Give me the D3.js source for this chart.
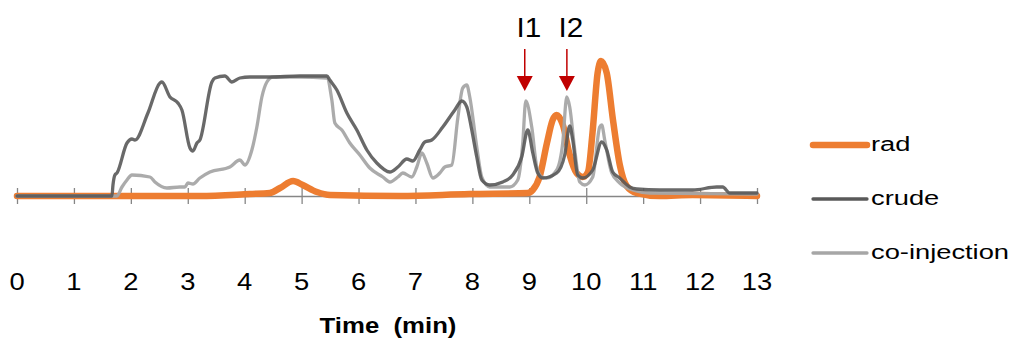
<!DOCTYPE html>
<html>
<head>
<meta charset="utf-8">
<script src="https://cdn.jsdelivr.net/npm/d3@7"></script>
<style>
  html, body { margin: 0; padding: 0; background: #fff; }
  svg { display: block; }
  text { font-family: "Liberation Sans", Arial, sans-serif; fill: #000; }
</style>
</head>
<body>
<svg id="chart" width="1014" height="341"></svg>
<script>
// ---- data (time in min, signal in arbitrary units) ----
const xTicks = [0,1,2,3,4,5,6,7,8,9,10,11,12,13];
const seriesNames = ["rad", "crude", "co-injection"];

const radTime = [0,3.21,4.09,4.44,4.62,4.85,5.02,5.27,5.50,6.73,7.95,8.97,9.06,9.18,9.31,9.41,9.48,9.59,9.71,9.83,9.94,10.03,10.11,10.20,10.26,10.36,10.47,10.59,10.71,10.89,11.29,11.87,13];
const radValue = [0,0,2,3,8,15,11,4,1,0,2,3,6,19,53,76,81,71,41,23,19,24,63,123,135,123,76,31,10,3,0,1,0];

const crudeTime = [0,1.668,1.686,1.72,1.756,1.932,2.019,2.072,2.30,2.511,2.546,2.687,2.827,2.897,3.038,3.09,3.161,3.213,3.424,3.477,3.652,3.775,3.916,4.091,4.443,4.969,5.443,5.495,5.619,5.795,5.97,6.146,6.321,6.55,6.69,6.848,6.953,7.076,7.164,7.287,7.48,7.691,7.814,7.902,7.989,8.077,8.165,8.305,8.534,8.709,8.867,8.973,9.061,9.148,9.236,9.482,9.622,9.71,9.763,9.851,9.939,10.114,10.272,10.36,10.465,10.588,10.764,10.887,11.291,11.87,12.292,12.397,12.52,13];
const crudeValue = [0,0,11,21,23,53,57,56,83,113,114,99,93,86,48,45,53,56,114,118,120,114,118,119,119,120,120,116,106,83,66,46,33,24,29,37,35,46,54,56,69,86,95,89,66,39,16,11,14,21,39,66,43,23,18,23,41,70,56,21,18,26,54,46,24,18,9,7,6,6,9,9,3,3];

const coinjTime = [0,1.756,1.844,1.932,2.019,2.335,2.423,2.634,2.862,2.95,3.003,3.09,3.213,3.389,3.74,3.916,4.004,4.126,4.214,4.302,4.39,4.495,4.969,5.443,5.531,5.584,5.707,5.847,6.023,6.198,6.427,6.55,6.69,6.778,6.936,7.024,7.112,7.199,7.305,7.428,7.515,7.638,7.744,7.831,7.902,7.954,8.077,8.165,8.305,8.657,8.797,8.885,8.938,9.043,9.131,9.219,9.306,9.482,9.587,9.658,9.71,9.798,9.886,9.974,10.114,10.237,10.272,10.325,10.448,10.588,10.817,11.115,13];
const coinjValue = [0,0,9,16,21,19,14,8,9,9,13,12,18,24,29,36,31,46,69,99,114,119,119,118,96,73,66,53,41,28,19,14,19,23,19,29,43,33,18,23,29,31,78,108,111,99,49,19,9,9,16,53,95,69,29,19,18,26,53,99,89,46,14,11,19,69,71,56,23,13,6,3,2];

const peakLabels = ["I1", "I2"];
const peakTimes = [8.92, 9.66];

// ---- layout ----
const svg = d3.select("#chart");
const x = d3.scaleLinear().domain([0, 13]).range([17, 757]);
const y = d3.scaleLinear().domain([0, 140]).range([196, 56]);

// axis
const axisG = svg.append("g").attr("transform", `translate(0,${y(0)})`);
const axis = d3.axisBottom(x).tickValues(xTicks).tickSizeInner(8).tickSizeOuter(0).tickFormat("");
axisG.call(axis);
axisG.select(".domain").attr("stroke", "#868686").attr("stroke-width", 1.3);
axisG.selectAll(".tick line").attr("stroke", "#868686").attr("stroke-width", 1.3).attr("y1", -8).attr("y2", 8);

// tick labels (horizontally stretched like the original)
svg.append("g").selectAll("text").data(xTicks).join("text")
  .attr("transform", d => `translate(${x(d)},290) scale(1.14,1)`)
  .attr("text-anchor", "middle")
  .style("font-size", "24px")
  .text(d => d);

// axis title
svg.append("text")
  .attr("transform", "translate(388,333) scale(1.12,1)")
  .attr("text-anchor", "middle")
  .style("font-size", "23px")
  .style("font-weight", "bold")
  .style("white-space", "pre")
  .text("Time  (min)");

// lines
const mk = (ts, vs) => ts.map((t, i) => [t, vs[i]]);
const line = d3.line().x(d => x(d[0])).y(d => y(d[1])).curve(d3.curveMonotoneX);

const series = [
  { name: seriesNames[0], data: mk(radTime, radValue), color: "#ed7d31", width: 6.5, op: 1 },
  { name: seriesNames[2], data: mk(coinjTime, coinjValue), color: "#a6a6a6", width: 3.3, op: 0.95 },
  { name: seriesNames[1], data: mk(crudeTime, crudeValue), color: "#595959", width: 3.3, op: 0.9 }
];

svg.append("g").selectAll("path").data(series).join("path")
  .attr("d", d => line(d.data))
  .attr("fill", "none")
  .attr("stroke", d => d.color)
  .attr("stroke-width", d => d.width)
  .attr("stroke-opacity", d => d.op)
  .attr("stroke-linejoin", "round")
  .attr("stroke-linecap", "round");

// peak annotations
const ann = svg.append("g");
peakTimes.forEach((t, i) => {
  const px = x(t);
  ann.append("line").attr("x1", px).attr("x2", px).attr("y1", 49).attr("y2", 78)
    .attr("stroke", "#c00000").attr("stroke-width", 1.5);
  ann.append("path")
    .attr("d", `M${px - 8},76 L${px + 8},76 L${px},91 Z`)
    .attr("fill", "#c00000");
  ann.append("text")
    .attr("transform", `translate(${px + 4},37) scale(1.1,1)`)
    .attr("text-anchor", "middle")
    .style("font-size", "27px")
    .text(peakLabels[i]);
});

// legend
const legend = [
  { name: seriesNames[0], color: "#ed7d31", width: 6.5, y: 145 },
  { name: seriesNames[1], color: "#595959", width: 3.3, y: 199 },
  { name: seriesNames[2], color: "#a6a6a6", width: 3.3, y: 253 }
];
const lg = svg.append("g").selectAll("g").data(legend).join("g");
lg.append("line")
  .attr("x1", 813).attr("x2", 867)
  .attr("y1", d => d.y).attr("y2", d => d.y)
  .attr("stroke", d => d.color).attr("stroke-width", d => d.width)
  .attr("stroke-linecap", "round");
lg.append("text")
  .attr("transform", d => `translate(871,${d.y + 6}) scale(1.3,1)`)
  .style("font-size", "21px")
  .text(d => d.name);
</script>
</body>
</html>
